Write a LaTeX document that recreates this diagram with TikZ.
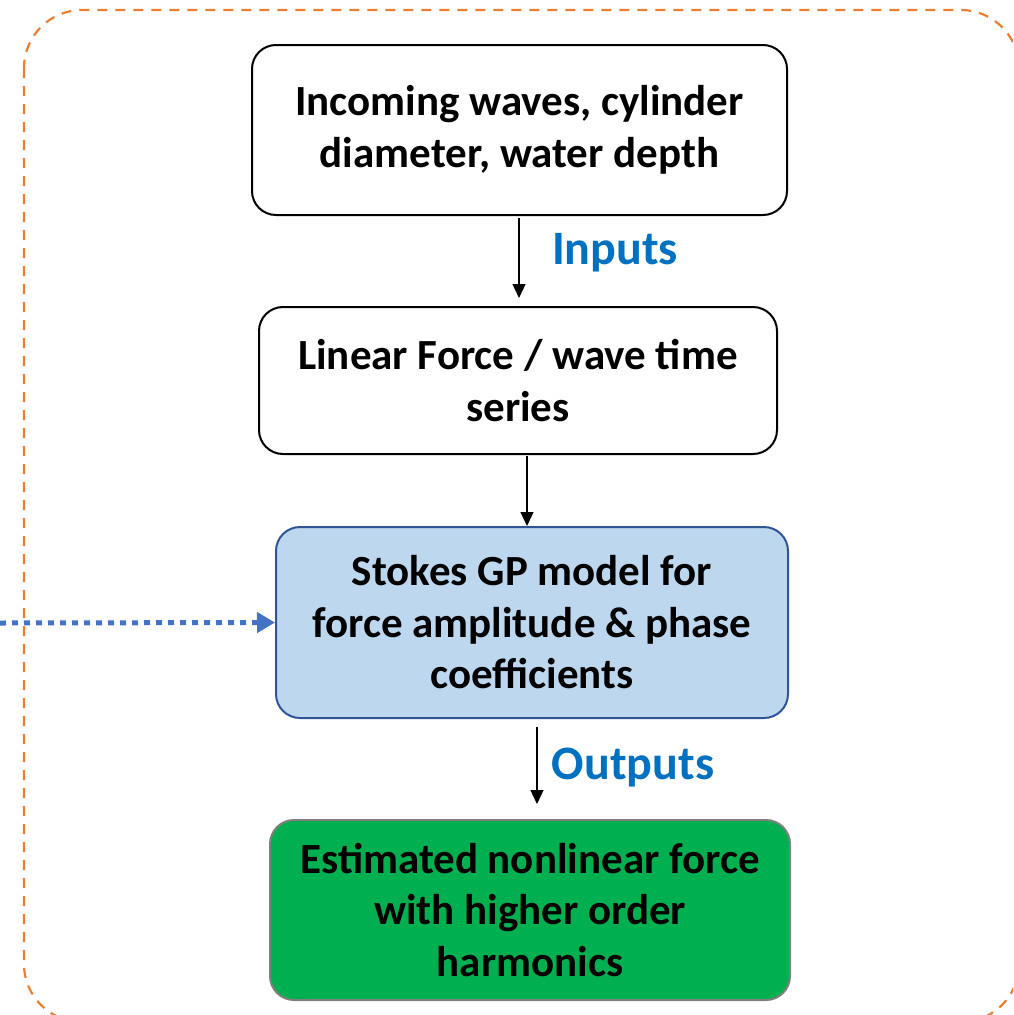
\documentclass[tikz,border=0pt]{standalone}
\usepackage{fontspec}
\setmainfont{Carlito}
\usetikzlibrary{arrows.meta}
\definecolor{dashorange}{HTML}{ED7D31}
\definecolor{lblue}{HTML}{BDD7EE}
\definecolor{dblue}{HTML}{2F5597}
\definecolor{arrblue}{HTML}{4472C4}
\definecolor{txtblue}{HTML}{0070C0}
\definecolor{mgreen}{HTML}{00B050}
\definecolor{gborder}{HTML}{7F7F7F}
\tikzset{
  boxstyle/.style={draw=black, line width=2pt, rounded corners=24pt, fill=white, align=center,
    font=\fontsize{43}{51.5}\selectfont\bfseries, inner sep=0pt},
  flowarrow/.style={-{Triangle[length=14pt,width=13pt]}, line width=1.2pt, black},
  lbl/.style={text=txtblue, font=\fontsize{48}{56}\selectfont\bfseries, inner sep=0pt}
}
\begin{document}
\begin{tikzpicture}[x=1pt,y=-1pt]
\useasboundingbox (0,0) rectangle (1013,1015);
\begin{scope}
\clip (0,0) rectangle (1013,1015);
\draw[dashorange, line width=2.2pt, dash pattern=on 10pt off 8pt, rounded corners=58pt] (24,10) rectangle (1019,1022);
\end{scope}
\node[boxstyle, minimum width=535pt, minimum height=170pt] (b1) at (519.5,130) {Incoming waves, cylinder\\diameter, water depth};
\node[boxstyle, minimum width=518pt, minimum height=147pt] (b2) at (518,380.5) {Linear Force / wave time\\series};
\node[boxstyle, draw=dblue, fill=lblue, minimum width=512pt, minimum height=191pt] (b3) at (532,622.5) {Stokes GP model for\\force amplitude \& phase\\coefficients};
\node[boxstyle, draw=gborder, fill=mgreen, minimum width=520pt, minimum height=180pt] (b4) at (530,910) {Estimated nonlinear force\\with higher order\\harmonics};
\coordinate (a1s) at (519,218);
\coordinate (a1e) at (519,298);
\coordinate (a2s) at (527,456);
\coordinate (a2e) at (527,526);
\coordinate (a3s) at (537,727);
\coordinate (a3e) at (537,804);
\draw[flowarrow] (a1s) -- (a1e);
\draw[flowarrow] (a2s) -- (a2e);
\draw[flowarrow] (a3s) -- (a3e);
\node[lbl] (in) at (615,253) {Inputs};
\node[lbl] (out) at (633,768) {Outputs};
\coordinate (src) at (0,623);
\draw[arrblue, line width=5pt, dash pattern=on 6pt off 6pt, -{Triangle[length=18pt,width=20pt]}] (src) -- (b3.west);
\end{tikzpicture}
\end{document}
